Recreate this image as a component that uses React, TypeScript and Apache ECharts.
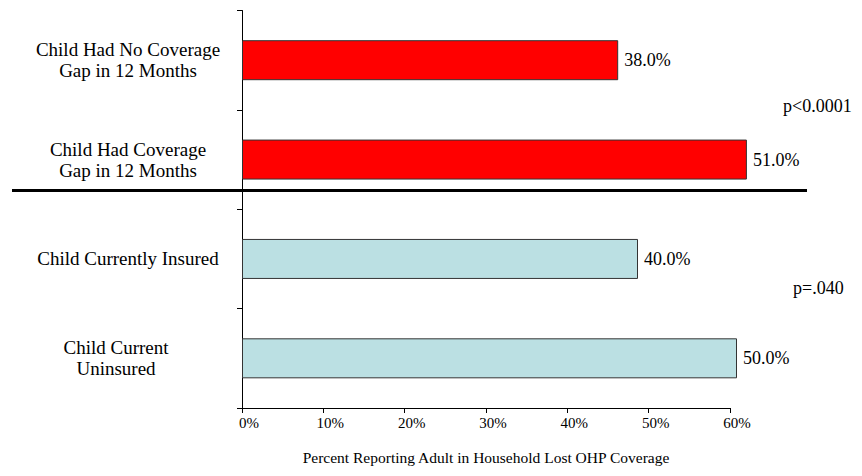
import React, { useEffect, useRef } from "react";
import * as echarts from "echarts";

const categories = [
  "Child Had No Coverage\nGap in 12 Months",
  "Child Had Coverage\nGap in 12 Months",
  "Child Currently Insured",
  "Child Current\nUninsured",
];
const values = [38, 51, 40, 50];
const groupIndex = [0, 0, 1, 1];
const pValueLabels = ["p<0.0001", "p=.040"];
const axisTitle = "Percent Reporting Adult in Household Lost OHP Coverage";

const FONT = "'Liberation Serif', 'Times New Roman', serif";
const groupColors = ["#FF0000", "#BBE0E3"];

export default function App() {
  const ref = useRef<HTMLDivElement>(null);
  useEffect(() => {
    document.body.style.margin = "0";
    const chart = echarts.init(ref.current!, null, { renderer: "svg" });
    const top = 10.5;
    const height = 397.5;
    chart.setOption({
      animation: false,
      backgroundColor: "#ffffff",
      grid: [
        { left: 242, top, width: 594, height },
        { left: 242, top, width: 488, height },
      ],
      xAxis: [
        {
          gridIndex: 0,
          type: "value",
          min: 0,
          max: 60,
          show: false,
        },
        {
          gridIndex: 1,
          type: "value",
          min: 0,
          max: 60,
          interval: 10,
          axisLine: { show: true, lineStyle: { color: "#000", width: 1 } },
          axisTick: { show: true, length: 5, lineStyle: { color: "#000" } },
          splitLine: { show: false },
          axisLabel: {
            formatter: "{value}%",
            fontFamily: FONT,
            fontSize: 15,
            color: "#000",
            margin: 7,
            padding: [0, 0, 0, 14],
          },
          name: axisTitle,
          nameLocation: "middle",
          nameGap: 41,
          nameTextStyle: { fontFamily: FONT, fontSize: 15.5, color: "#000" },
        },
      ],
      yAxis: [
        {
          gridIndex: 0,
          type: "category",
          inverse: true,
          data: categories,
          axisLine: { show: true, lineStyle: { color: "#000", width: 1 } },
          axisTick: { show: true, length: 5, lineStyle: { color: "#000" } },
          axisLabel: {
            align: "center",
            margin: 114,
            color: "#000",
            fontFamily: FONT,
            fontSize: 19,
            lineHeight: 21,
            formatter: (v: string, i: number) =>
              i === 3 ? `{b|${v}}` : `{a|${v}}`,
            rich: {
              a: { fontFamily: FONT, fontSize: 19, lineHeight: 21, color: "#000" },
              b: {
                fontFamily: FONT,
                fontSize: 19,
                lineHeight: 21,
                color: "#000",
                padding: [0, 24, 0, 0],
              },
            },
          },
        },
        {
          gridIndex: 1,
          type: "category",
          inverse: true,
          data: categories,
          show: false,
        },
      ],
      series: [
        {
          type: "bar",
          xAxisIndex: 0,
          yAxisIndex: 0,
          data: values,
          barWidth: 40,
          itemStyle: {
            color: (p: any) => groupColors[groupIndex[p.dataIndex]],
            borderColor: "#333",
            borderWidth: 1,
          },
          label: {
            show: true,
            position: "right",
            distance: 6,
            formatter: (p: any) => `${Number(p.value).toFixed(1)}%`,
            fontFamily: FONT,
            fontSize: 18,
            color: "#000",
          },
        },
      ],
      graphic: [
        {
          type: "line",
          shape: { x1: 12, y1: 190.5, x2: 807, y2: 190.5 },
          style: { stroke: "#000", lineWidth: 3 },
          z: 10,
        },
        {
          type: "text",
          x: 783,
          y: 106,
          style: {
            text: pValueLabels[0],
            fontFamily: FONT,
            fontSize: 18,
            fill: "#000",
            textVerticalAlign: "middle",
            verticalAlign: "middle",
          },
        },
        {
          type: "text",
          x: 793,
          y: 288,
          style: {
            text: pValueLabels[1],
            fontFamily: FONT,
            fontSize: 18,
            fill: "#000",
            verticalAlign: "middle",
          },
        },
      ],
    });
    return () => chart.dispose();
  }, []);
  return <div ref={ref} style={{ width: 862, height: 476 }} />;
}
